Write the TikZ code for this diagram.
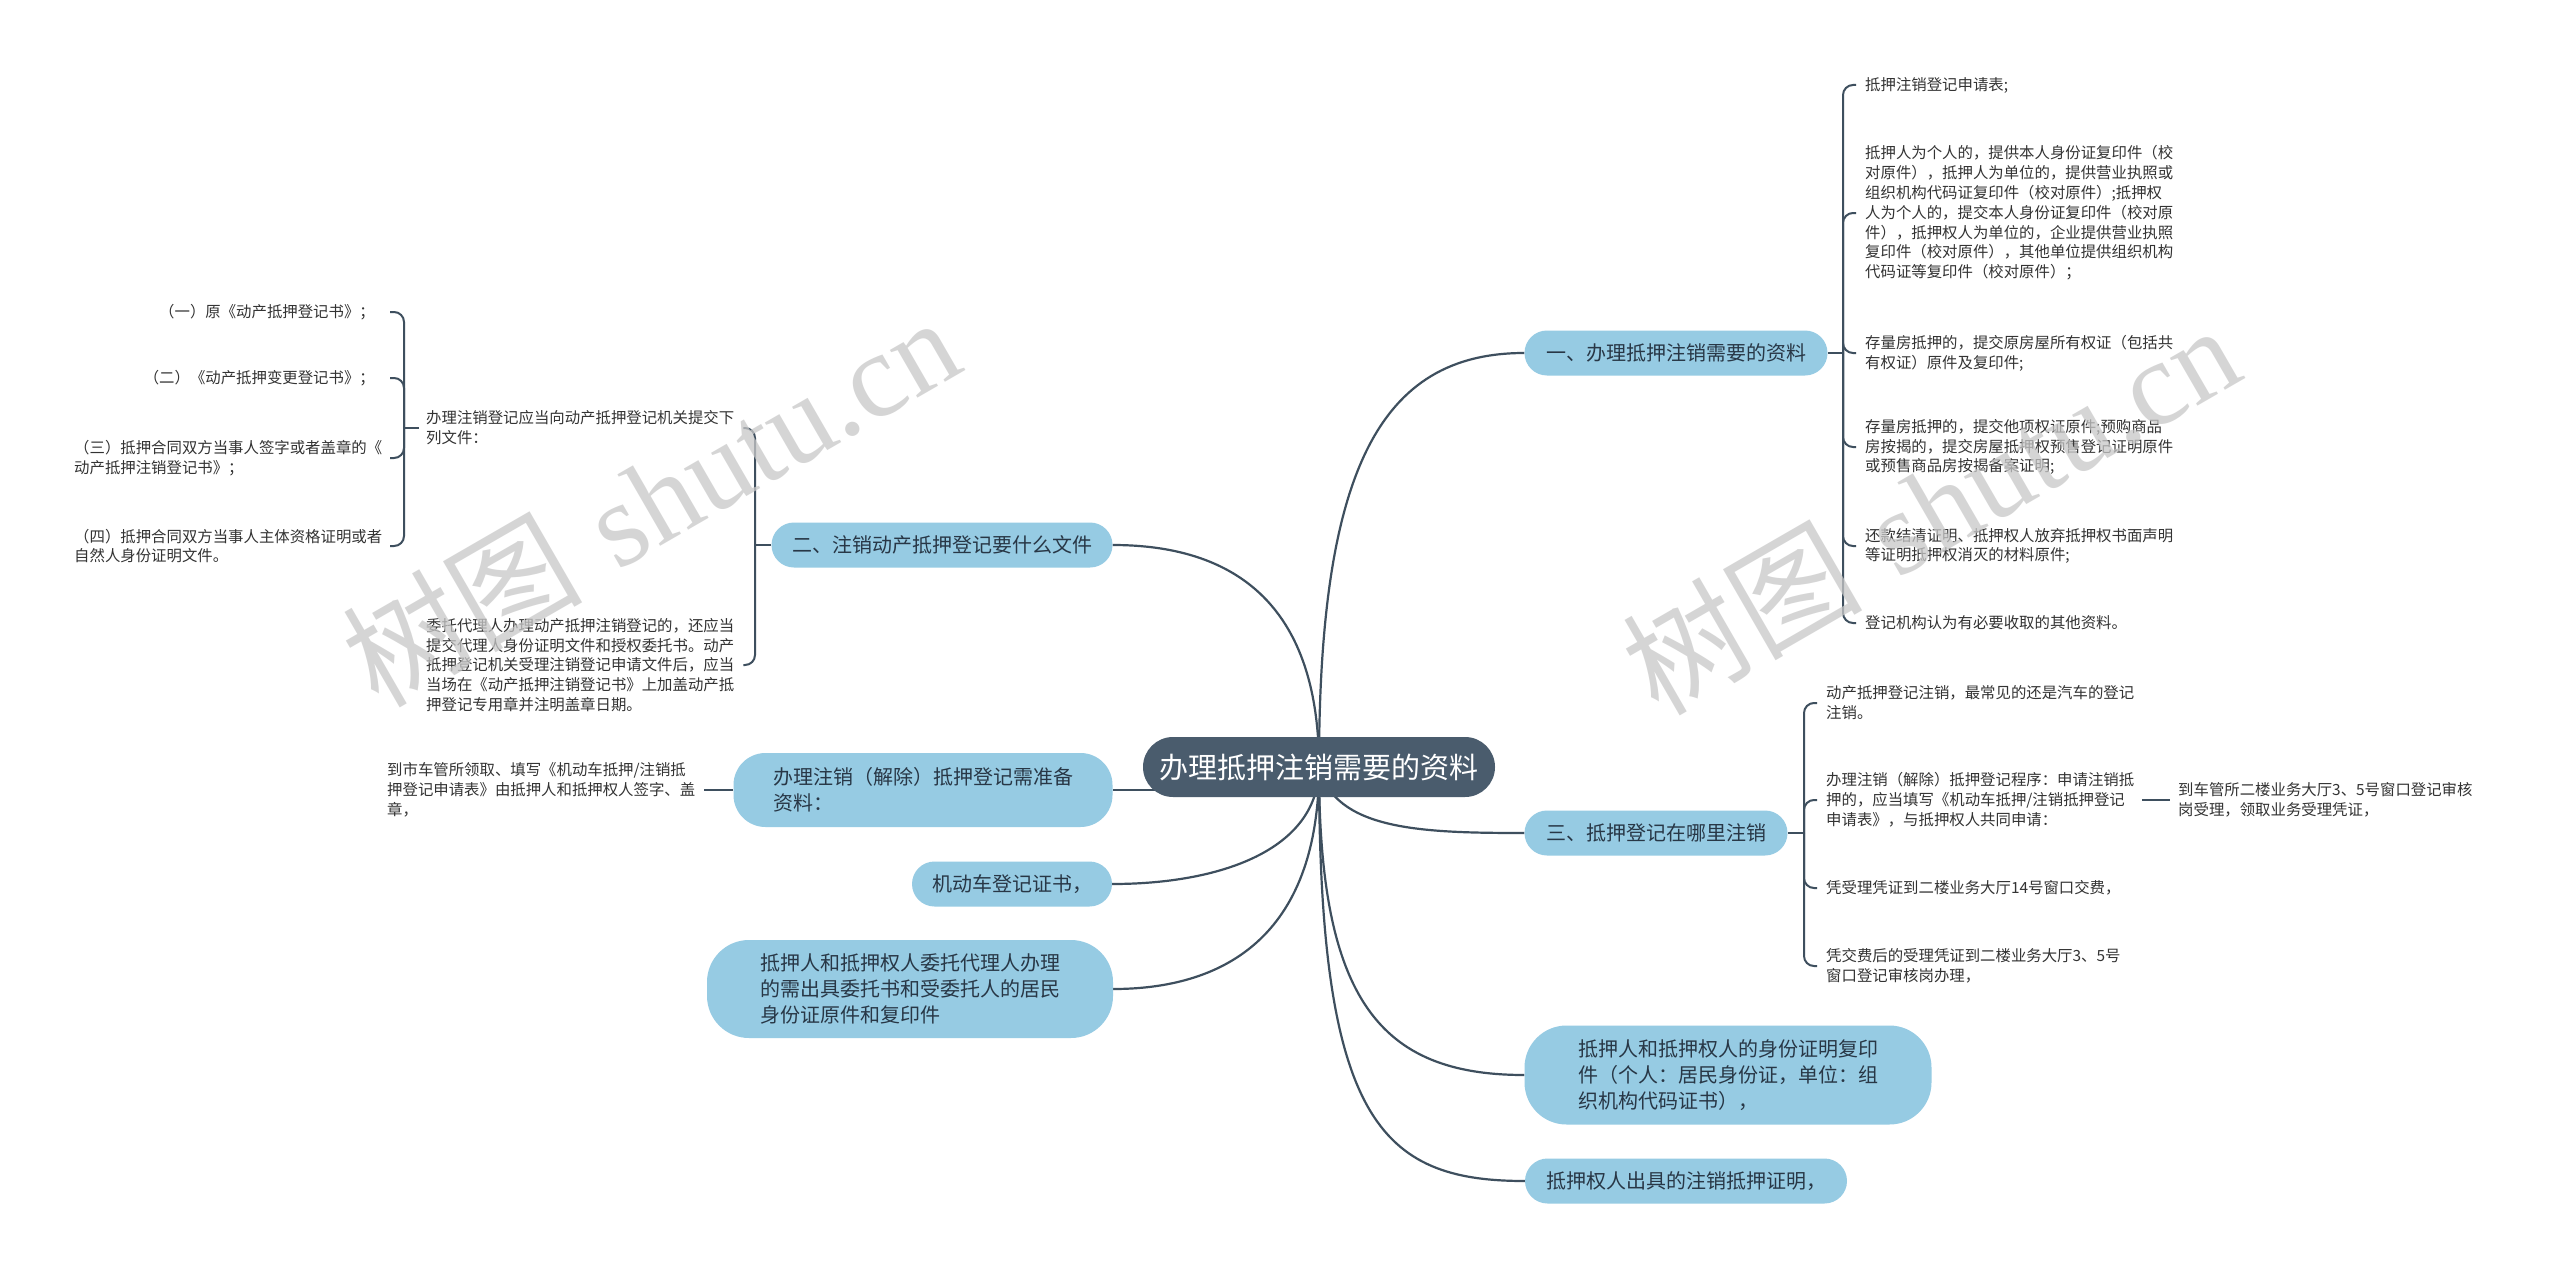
\documentclass[tikz,border=0pt]{standalone}
\usepackage{fontspec}
\newfontfamily\cjk{Noto Sans CJK SC}
\newfontfamily\wmlatin{Liberation Serif}
\usetikzlibrary{calc}
\definecolor{topicc}{RGB}{150,203,227}
\definecolor{rootc}{RGB}{74,92,109}
\definecolor{linec}{RGB}{62,79,94}
\definecolor{topictext}{RGB}{40,55,70}
\definecolor{leaftext}{RGB}{51,51,51}
\definecolor{wmc}{RGB}{200,200,200}
\pgfdeclarelayer{bg}
\pgfsetlayers{bg,main}
\begin{document}
\begin{tikzpicture}[x=1pt,y=-1pt,
  conn/.style={draw=linec,line width=2.2pt},
  hook/.style={draw=linec,line width=2pt,rounded corners=10pt},
  rootbox/.style={fill=rootc,text=white,rounded corners=30pt,minimum width=352pt,minimum height=60pt,inner sep=0pt,font=\cjk\fontsize{29}{34}\selectfont},
  topicbox/.style={fill=topicc,text=topictext,inner sep=0pt,minimum height=45pt,rounded corners=22.5pt,align=left,font=\cjk\fontsize{20}{26}\selectfont},
  leaf/.style={text=leaftext,inner sep=0pt,align=left,font=\cjk\fontsize{15.4}{19.8}\selectfont},
  wm/.style={text=wmc,opacity=0.75,rotate=30,inner sep=0pt}
]
\useasboundingbox (0,0) rectangle (2560,1271);

% root and topics
\node[rootbox] (C) at (1319,767) {办理抵押注销需要的资料};
\node[topicbox,minimum width=303pt] (B1) at (1676,353) {一、办理抵押注销需要的资料};
\node[topicbox,minimum width=341pt] (B2) at (942,545) {二、注销动产抵押登记要什么文件};
\node[topicbox,minimum width=263pt] (B3) at (1656,833) {三、抵押登记在哪里注销};
\node[topicbox,minimum width=379pt,minimum height=74pt,rounded corners=32pt] (L1) at (923,790) {办理注销（解除）抵押登记需准备\\资料：};
\node[topicbox,minimum width=200pt] (L2) at (1012,884) {机动车登记证书，};
\node[topicbox,minimum width=406pt,minimum height=98pt,rounded corners=42pt] (L3) at (910,989) {抵押人和抵押权人委托代理人办理\\的需出具委托书和受委托人的居民\\身份证原件和复印件};
\node[topicbox,minimum width=407pt,minimum height=99pt,rounded corners=42pt] (R1) at (1728,1075) {抵押人和抵押权人的身份证明复印\\件（个人：居民身份证，单位：组\\织机构代码证书），};
\node[topicbox,minimum width=322pt] (R2) at (1686,1181) {抵押权人出具的注销抵押证明，};

% branch one leaves
\node[leaf,anchor=west] (c1) at (1865,85) {抵押注销登记申请表;};
\node[leaf,anchor=west] (c2) at (1865,213) {抵押人为个人的，提供本人身份证复印件（校\\对原件），抵押人为单位的，提供营业执照或\\组织机构代码证复印件（校对原件）;抵押权\\人为个人的，提交本人身份证复印件（校对原\\件），抵押权人为单位的，企业提供营业执照\\复印件（校对原件），其他单位提供组织机构\\代码证等复印件（校对原件）；};
\node[leaf,anchor=west] (c3) at (1865,353) {存量房抵押的，提交原房屋所有权证（包括共\\有权证）原件及复印件;};
\node[leaf,anchor=west] (c4) at (1865,447) {存量房抵押的，提交他项权证原件;预购商品\\房按揭的，提交房屋抵押权预售登记证明原件\\或预售商品房按揭备案证明;};
\node[leaf,anchor=west] (c5) at (1865,546) {还款结清证明、抵押权人放弃抵押权书面声明\\等证明抵押权消灭的材料原件;};
\node[leaf,anchor=west] (c6) at (1865,623) {登记机构认为有必要收取的其他资料。};

% branch three leaves
\node[leaf,anchor=west] (d1) at (1826,703) {动产抵押登记注销，最常见的还是汽车的登记\\注销。};
\node[leaf,anchor=west] (d2) at (1826,800) {办理注销（解除）抵押登记程序：申请注销抵\\押的，应当填写《机动车抵押/注销抵押登记\\申请表》，与抵押权人共同申请：};
\node[leaf,anchor=west] (d3) at (1826,888) {凭受理凭证到二楼业务大厅14号窗口交费，};
\node[leaf,anchor=west] (d4) at (1826,966) {凭交费后的受理凭证到二楼业务大厅3、5号\\窗口登记审核岗办理，};
\node[leaf,anchor=west] (d2c) at (2178,800) {到车管所二楼业务大厅3、5号窗口登记审核\\岗受理，领取业务受理凭证，};

% branch two leaves
\node[leaf,anchor=west] (e1) at (426,428) {办理注销登记应当向动产抵押登记机关提交下\\列文件：};
\node[leaf,anchor=west] (e2) at (426,665) {委托代理人办理动产抵押注销登记的，还应当\\提交代理人身份证明文件和授权委托书。动产\\抵押登记机关受理注销登记申请文件后，应当\\当场在《动产抵押注销登记书》上加盖动产抵\\押登记专用章并注明盖章日期。};
\node[leaf,anchor=east] (f1) at (375,312) {（一）原《动产抵押登记书》；};
\node[leaf,anchor=east] (f2) at (375,378) {（二）《动产抵押变更登记书》；};
\node[leaf,anchor=west] (f3) at (74,458) {（三）抵押合同双方当事人签字或者盖章的《\\动产抵押注销登记书》；};
\node[leaf,anchor=west] (f4) at (74,546) {（四）抵押合同双方当事人主体资格证明或者\\自然人身份证明文件。};

% left leaf
\node[leaf,anchor=west] (Lc) at (387,790) {到市车管所领取、填写《机动车抵押/注销抵\\押登记申请表》由抵押人和抵押权人签字、盖\\章，};

% spine coordinates
\coordinate (s1) at (1843,353);
\coordinate (s3) at (1804,833);
\coordinate (s2) at (755,545);
\coordinate (se1) at (404,428);
\coordinate (hx) at (390,0);

\begin{pgfonlayer}{bg}
\fill[white] (0,0) rectangle (2560,1271);
% root connectors
\draw[conn] (C.center) .. controls (1319,470) and (1380,353) .. (B1.west);
\draw[conn] (C.center) .. controls (1319,600) and (1230,545) .. (B2.east);
\draw[conn] (C.center) .. controls (1335,830) and (1420,833) .. (B3.west);
\draw[conn] (C.center) .. controls (1319,1000) and (1380,1075) .. (R1.west);
\draw[conn] (C.center) .. controls (1319,1120) and (1380,1181) .. (R2.west);
\draw[conn] (L1.east) -- (L1.east -| C.center);
\draw[conn] (C.center) .. controls (1319,850) and (1220,884) .. (L2.east);
\draw[conn] (C.center) .. controls (1319,940) and (1220,989) .. (L3.east);
\draw[conn] (L1.west) -- ([xshift=9pt]Lc.east);

% branch one bracket
\draw[conn] (B1.east) -- (s1);
\foreach \n in {c1,c2,c3,c4,c5,c6} \draw[hook] (s1) |- ([xshift=-9pt]\n.west);

% branch three bracket
\draw[conn] (B3.east) -- (s3);
\foreach \n in {d1,d2,d3,d4} \draw[hook] (s3) |- ([xshift=-9pt]\n.west);
\draw[conn] ([xshift=8pt]d2.east) -- ([xshift=-8pt]d2c.west);

% branch two bracket
\draw[conn] (B2.west) -- (s2);
\foreach \n in {e1,e2} \draw[hook] (s2) |- ([xshift=9pt]\n.east);
\draw[conn] ([xshift=-7pt]e1.west) -- (se1);
\foreach \n in {f1,f2,f3,f4} \draw[hook] (se1) |- (\n.east -| hx);
\end{pgfonlayer}

% watermarks
\node[wm] (w1) at (650,500) {\fontsize{120}{120}\selectfont{\cjk 树图} {\wmlatin shutu.cn}};
\node[wm] (w2) at (1930,508) {\fontsize{120}{120}\selectfont{\cjk 树图} {\wmlatin shutu.cn}};
\end{tikzpicture}
\end{document}
